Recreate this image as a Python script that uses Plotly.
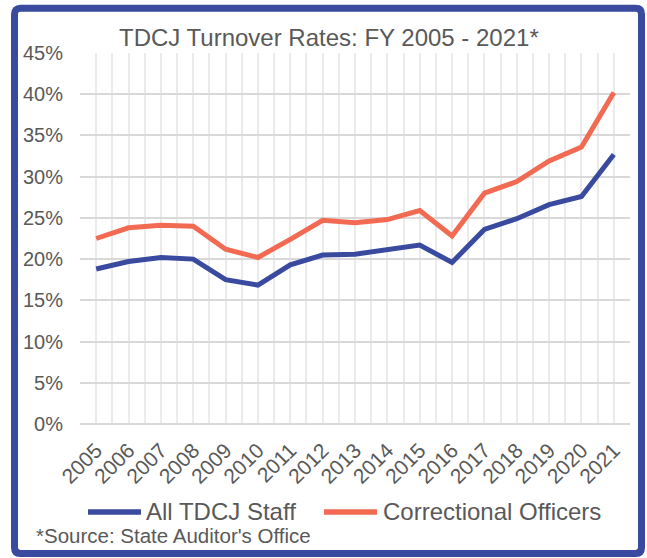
import plotly.graph_objects as go

years = list(range(2005, 2022))
year_labels = [str(y) for y in years]
all_staff = [18.8, 19.7, 20.2, 20.0, 17.5, 16.85, 19.3, 20.5, 20.6, 21.2, 21.7, 19.6, 23.6, 24.9, 26.6, 27.6, 32.7]
officers = [22.5, 23.8, 24.1, 24.0, 21.2, 20.2, 22.4, 24.7, 24.4, 24.8, 25.9, 22.8, 28.0, 29.4, 31.9, 33.6, 40.2]
series_names = ["All TDCJ Staff", "Correctional Officers"]
y_ticks = [0, 5, 10, 15, 20, 25, 30, 35, 40, 45]
y_tick_labels = ["0%", "5%", "10%", "15%", "20%", "25%", "30%", "35%", "40%", "45%"]

BLUE = "#394a9f"
RED = "#f26a52"
TXT = "#595959"
FONT = "Liberation Sans, Arial, sans-serif"

W, H = 647, 558
L, R, T, B = 80, 630, 52.7, 424.0


def px(x):
    return (x - L) / (R - L)


def py(y):
    return (B - y) / (B - T)


fig = go.Figure()
fig.add_trace(go.Scatter(x=years, y=all_staff, mode="lines", name=series_names[0],
                         line=dict(color=BLUE, width=5), showlegend=False))
fig.add_trace(go.Scatter(x=years, y=officers, mode="lines", name=series_names[1],
                         line=dict(color=RED, width=5), showlegend=False))

fig.update_layout(
    width=W, height=H,
    margin=dict(l=L, r=W - R, t=T, b=H - B, pad=0),
    paper_bgcolor="white", plot_bgcolor="white",
    font=dict(family=FONT, color=TXT),
    xaxis=dict(
        range=[years[0] - 0.5, years[-1] + 0.5],
        tickmode="array", tickvals=years, ticktext=year_labels,
        tickangle=-45, tickfont=dict(size=21, color=TXT, family=FONT),
        showgrid=True, gridcolor="#ebebeb", gridwidth=1.6,
        minor=dict(tick0=years[0] - 0.5, dtick=1, showgrid=True, gridcolor="#ebebeb", gridwidth=1.6),
        zeroline=False, showline=False, ticks="", ticklabelstandoff=9,
        fixedrange=True,
    ),
    yaxis=dict(
        range=[0, 45], tickmode="array", tickvals=y_ticks, ticktext=y_tick_labels,
        tickfont=dict(size=20, color=TXT, family=FONT),
        showgrid=True, gridcolor="#d9d9d9", gridwidth=2,
        zeroline=True, zerolinecolor="#d9d9d9", zerolinewidth=2,
        showline=False, ticks="", ticklabelstandoff=16,
        fixedrange=True,
    ),
)

# Title
fig.add_annotation(text="TDCJ Turnover Rates: FY 2005 - 2021*", xref="paper", yref="paper",
                   x=px(117), y=py(37), xanchor="left", yanchor="middle", showarrow=False,
                   font=dict(size=24, color=TXT, family=FONT))

# Legend (manual)
leg_y = 512
fig.add_shape(type="line", xref="paper", yref="paper", x0=px(88), x1=px(141), y0=py(leg_y), y1=py(leg_y),
              line=dict(color=BLUE, width=5.5))
fig.add_annotation(text=series_names[0], xref="paper", yref="paper", x=px(144), y=py(leg_y),
                   xanchor="left", yanchor="middle", showarrow=False,
                   font=dict(size=24, color=TXT, family=FONT))
fig.add_shape(type="line", xref="paper", yref="paper", x0=px(324), x1=px(377), y0=py(leg_y), y1=py(leg_y),
              line=dict(color=RED, width=5.5))
fig.add_annotation(text=series_names[1], xref="paper", yref="paper", x=px(381), y=py(leg_y),
                   xanchor="left", yanchor="middle", showarrow=False,
                   font=dict(size=24, color=TXT, family=FONT))

# Footnote
fig.add_annotation(text="*Source: State Auditor's Office", xref="paper", yref="paper", x=px(34), y=py(536),
                   xanchor="left", yanchor="middle", showarrow=False,
                   font=dict(size=20.5, color=TXT, family=FONT))

# Border with rounded corners
x0, x1, y0, y1, r = 14.5, 641.5, 8.0, 553.5, 6
path = (f"M {px(x0 + r)},{py(y0)} L {px(x1 - r)},{py(y0)} Q {px(x1)},{py(y0)} {px(x1)},{py(y0 + r)} "
        f"L {px(x1)},{py(y1 - r)} Q {px(x1)},{py(y1)} {px(x1 - r)},{py(y1)} "
        f"L {px(x0 + r)},{py(y1)} Q {px(x0)},{py(y1)} {px(x0)},{py(y1 - r)} "
        f"L {px(x0)},{py(y0 + r)} Q {px(x0)},{py(y0)} {px(x0 + r)},{py(y0)} Z")
fig.add_shape(type="path", xref="paper", yref="paper", path=path, line=dict(color=BLUE, width=7))

fig.write_html("out.html", config={"displayModeBar": False},
               post_script="document.body.style.margin='0';document.body.style.overflow='hidden';")
